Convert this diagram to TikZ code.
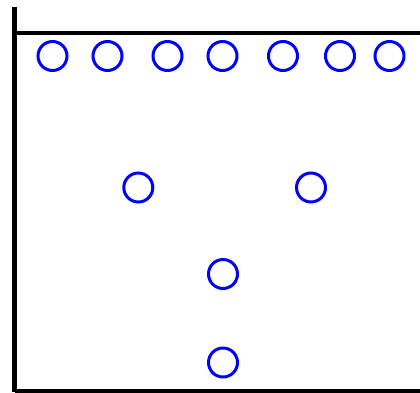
\documentclass[tikz,border=0pt]{standalone}
\begin{document}
\begin{tikzpicture}[x=1pt,y=-1pt,
  ball/.style={circle,draw=blue,line width=3pt,minimum size=29pt,inner sep=0pt},
  wall/.style={line width=4pt,black}]
\useasboundingbox (0,0) rectangle (420,392);
\fill[white] (0,0) rectangle (420,392);
\draw[line width=5pt] (14.5,7) -- (14.5,392);
\draw[wall] (14.5,32.5) -- (420,32.5);
\draw[wall] (14.5,390.5) -- (420,390.5);
\node[ball] (t1) at (52.5,56) {};
\node[ball] (t2) at (107.5,56) {};
\node[ball] (t3) at (167.5,56) {};
\node[ball] (t4) at (222.5,56) {};
\node[ball] (t5) at (283,56) {};
\node[ball] (t6) at (340,56) {};
\node[ball] (t7) at (389.5,56) {};
\node[ball] (m1) at (138.3,187.5) {};
\node[ball] (m2) at (311,187.5) {};
\node[ball] (b1) at (223,274) {};
\node[ball] (b2) at (223,362.5) {};
\end{tikzpicture}
\end{document}
